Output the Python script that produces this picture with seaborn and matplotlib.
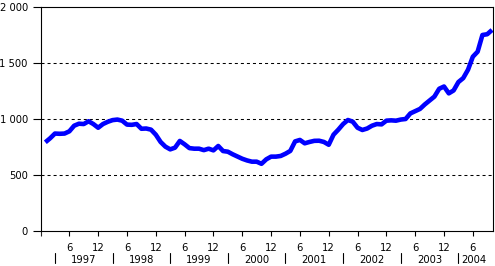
import numpy as np
import pandas as pd
import matplotlib
matplotlib.use("Agg")
import matplotlib.pyplot as plt
import matplotlib.transforms as mtransforms
import seaborn as sns

# Monthly values, Jan 1997 .. Oct 2004
values = [792, 828, 870, 868, 870, 890, 940, 958, 955, 980, 955, 922,
          955, 975, 990, 995, 985, 950, 948, 955, 913, 915, 905, 860,
          795, 753, 729, 744, 804, 774, 740, 735, 735, 722, 735, 720,
          759, 714, 708, 685, 665, 645, 630, 619, 619, 600, 640, 664,
          664, 670, 690, 715, 800, 813, 783, 795, 805, 806, 795, 770,
          860, 905, 955, 991, 976, 922, 902, 915, 940, 955, 952, 985,
          988, 985, 995, 1000, 1050, 1070, 1090, 1130, 1165, 1200, 1270, 1290,
          1229, 1255, 1330, 1365, 1440, 1556, 1601, 1750, 1757, 1795]
years = ["1997", "1998", "1999", "2000", "2001", "2002", "2003", "2004"]
month_tick_labels = ["6", "12"]
y_ticks = [0, 500, 1000, 1500, 2000]
y_tick_labels = ["0", "500", "1 000", "1 500", "2 000"]

df = pd.DataFrame({"t": np.arange(len(values)), "value": values})

sns.set_style("white")
plt.rcParams["font.family"] = ["DejaVu Sans"]

fig = plt.figure(figsize=(4.95, 2.66), dpi=100)
ax = fig.add_axes([41/495, 1-231/266, (493-41)/495, (231-7)/266])

sns.lineplot(data=df, x="t", y="value", ax=ax, color="#0000ff", linewidth=3.3,
             solid_capstyle="butt", solid_joinstyle="round")

ax.set_xlim(-0.9, 93.2)
ax.set_ylim(0, 2000)

for g in [500, 1000, 1500]:
    ax.axhline(g, color="black", linewidth=0.75, linestyle=(0, (2.9, 2.9)), zorder=1)

for s in ax.spines.values():
    s.set_color("black")
    s.set_linewidth(0.8)
    s.set_visible(True)

ax.set_yticks(y_ticks)
ax.set_yticklabels(y_tick_labels)
ax.tick_params(axis="y", direction="out", length=5.5, width=0.8, pad=4,
               labelsize=7.2, colors="black", left=True)

# month ticks: June and December of each year
xt, xl = [], []
for k in range(len(years)):
    for j, m in enumerate([5, 11]):
        pos = 12 * k + m
        if pos <= 93:
            xt.append(pos)
            xl.append(month_tick_labels[j])
ax.set_xticks(xt)
ax.set_xticklabels(xl)
ax.tick_params(axis="x", direction="out", length=3.6, width=0.8, pad=5,
               labelsize=7.2, colors="black", bottom=True)
ax.set_xticks([-0.9], minor=True)
ax.tick_params(axis="x", which="minor", direction="out", length=3.6, width=0.8, bottom=True)
ax.set_xlabel("")
ax.set_ylabel("")

trans = mtransforms.blended_transform_factory(ax.transData, ax.transAxes)
for k in range(len(years)):
    sep = 2 + 12 * k
    ax.plot([sep, sep], [-0.098, -0.143], color="black", linewidth=0.8,
            transform=trans, clip_on=False)
    if k < len(years) - 1:
        cx = sep + 6
    else:
        cx = 89.2
    ax.text(cx, -0.128, years[k], transform=trans, ha="center", va="center",
            fontsize=7.2, color="black")

fig.savefig("out.png", dpi=100)
